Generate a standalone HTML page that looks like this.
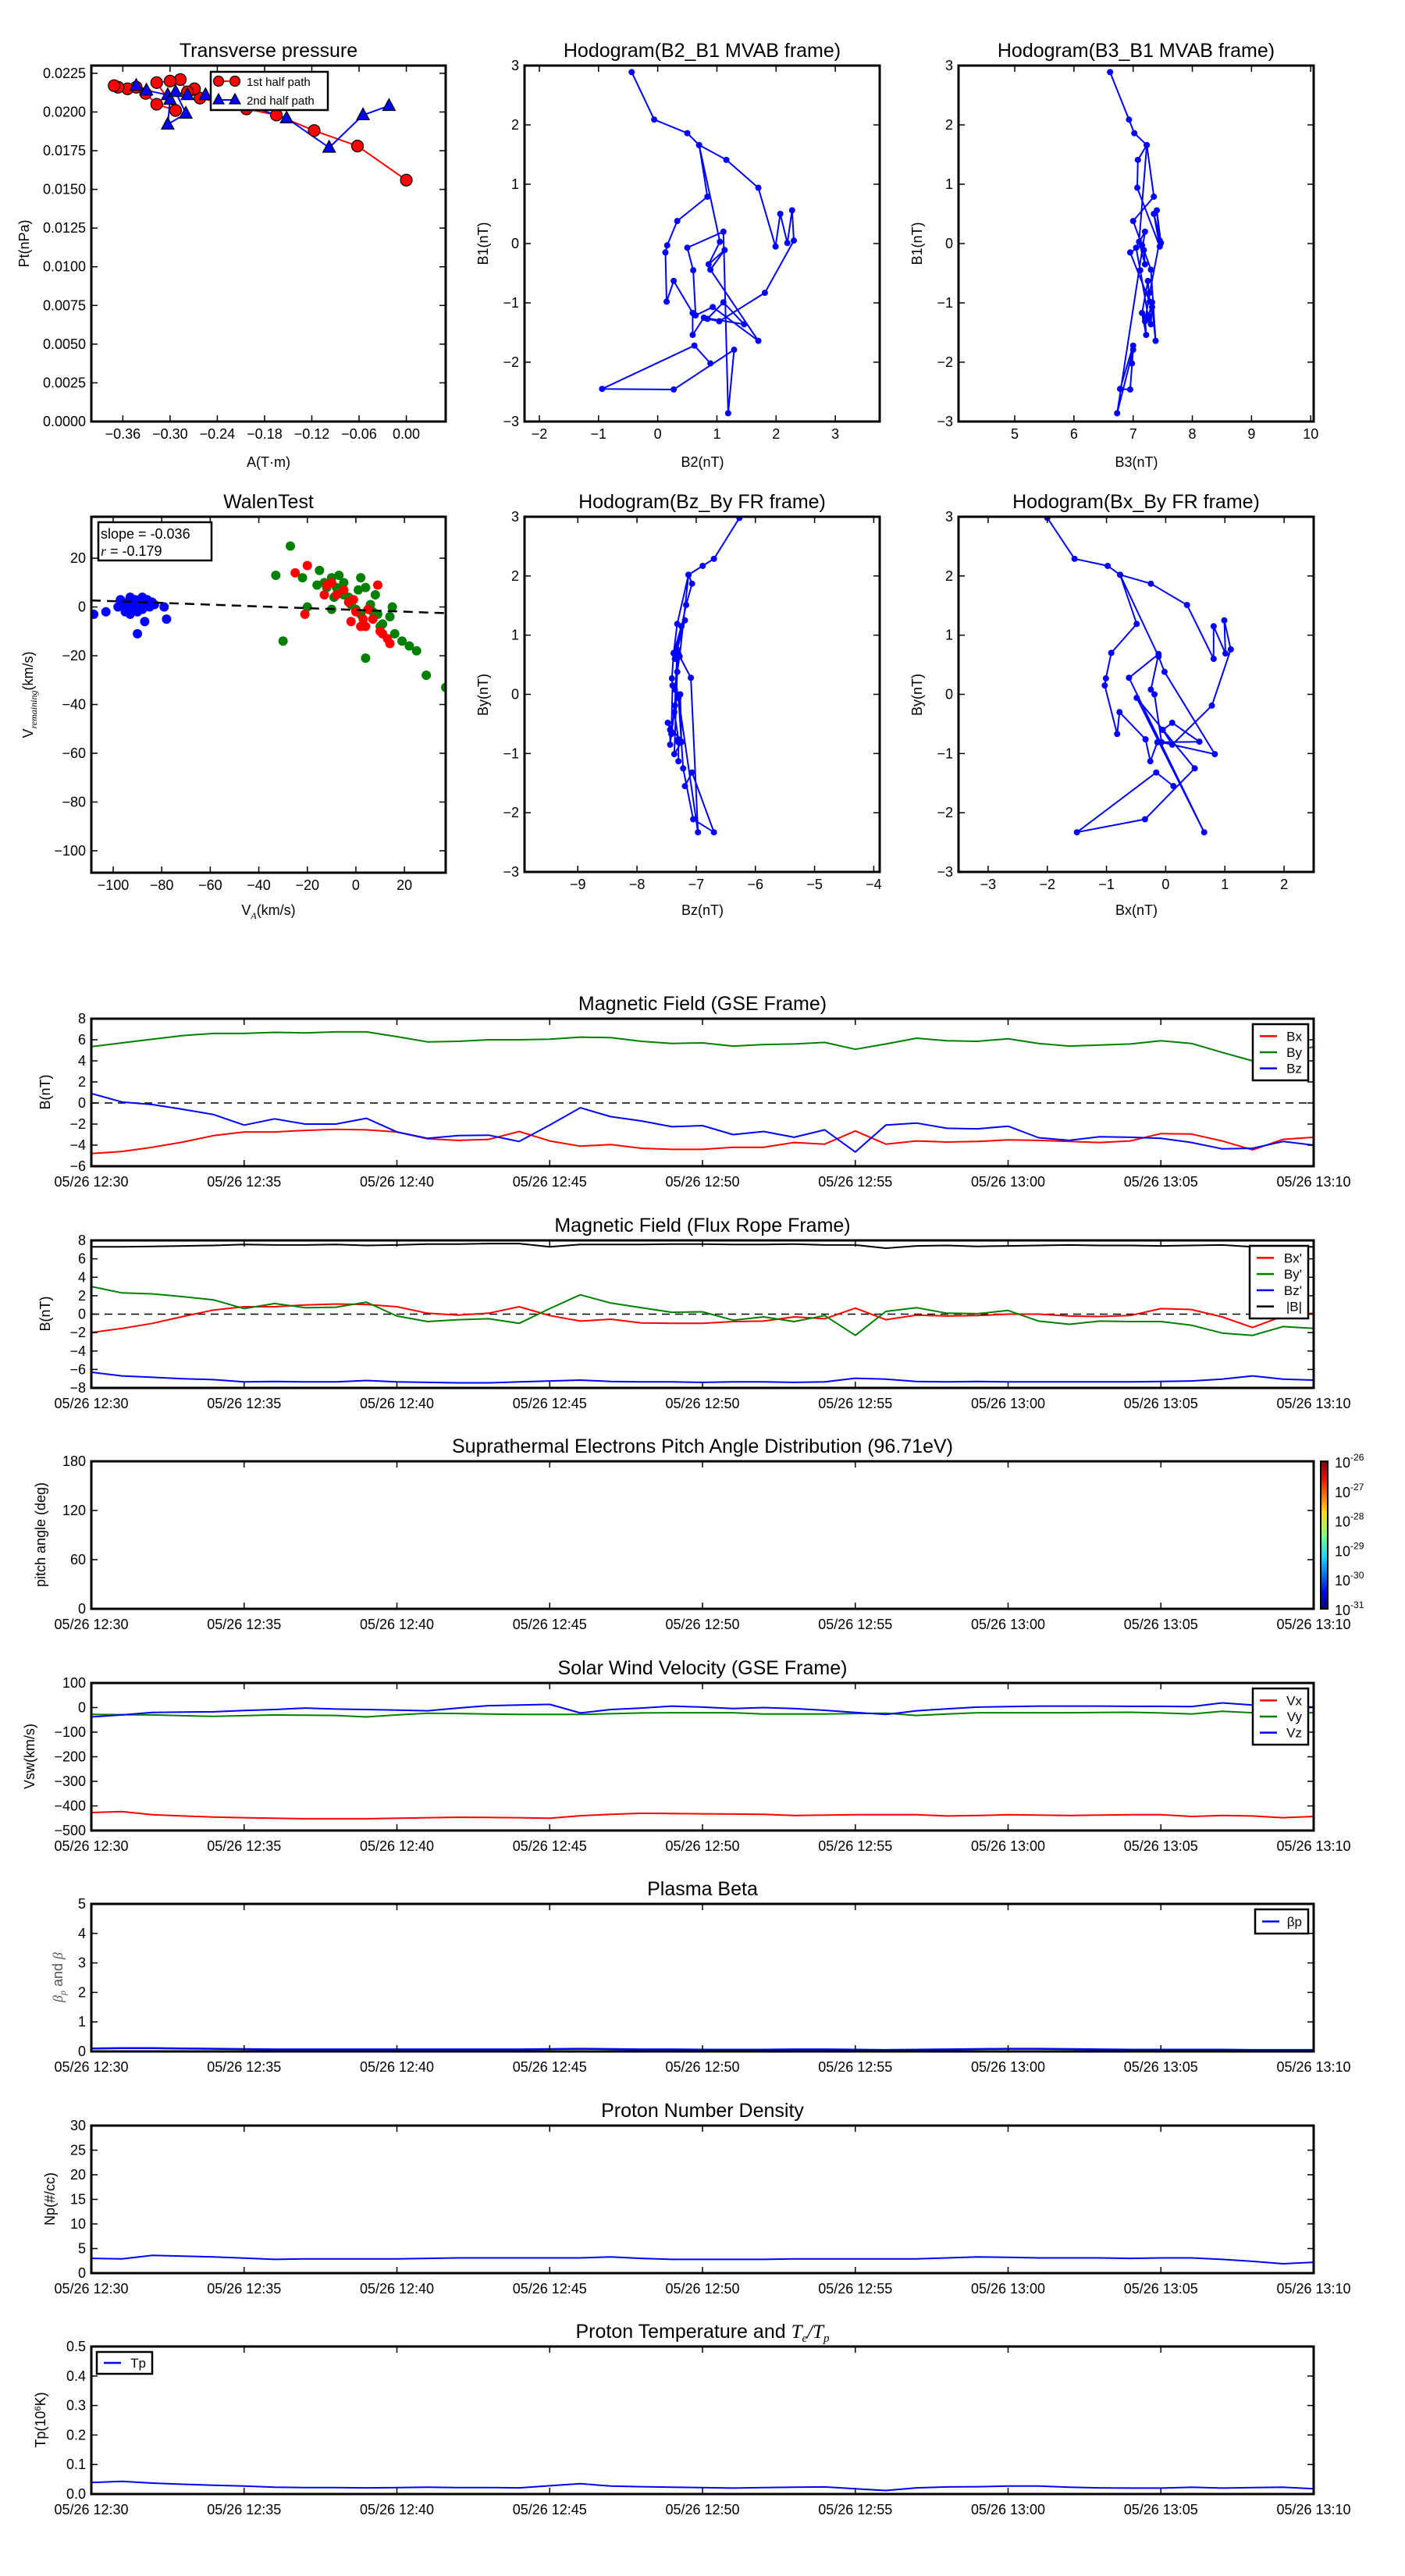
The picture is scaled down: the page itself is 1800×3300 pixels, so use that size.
<!DOCTYPE html>
<html><head><meta charset="utf-8"><title>Flux rope analysis</title>
<style>
html,body{margin:0;padding:0;background:#fff;}
svg{display:block;font-family:"Liberation Sans","DejaVu Sans",sans-serif;}
</style></head>
<body>
<svg id="fig" xmlns="http://www.w3.org/2000/svg" width="1800" height="3300" viewBox="0 0 1800 3300">
<rect x="0" y="0" width="1800" height="3300" fill="#fff"/>
</svg>
<script>
// ---------- DATA ----------
const timeTicks = [0,5,10,15,20,25,30,35,40];
const timeLabels = ["05/26 12:30","05/26 12:35","05/26 12:40","05/26 12:45","05/26 12:50","05/26 12:55","05/26 13:00","05/26 13:05","05/26 13:10"];

const gseBx = [-4.8,-4.6,-4.2,-3.7,-3.1,-2.75,-2.75,-2.6,-2.5,-2.55,-2.75,-3.4,-3.55,-3.45,-2.7,-3.6,-4.1,-3.95,-4.3,-4.4,-4.4,-4.2,-4.2,-3.75,-3.9,-2.65,-3.9,-3.6,-3.7,-3.65,-3.5,-3.55,-3.65,-3.75,-3.6,-2.9,-2.95,-3.6,-4.45,-3.45,-3.25];
const gseBy = [5.35,5.7,6.05,6.4,6.6,6.6,6.7,6.65,6.75,6.75,6.3,5.8,5.85,6.0,6.0,6.05,6.25,6.2,5.85,5.65,5.7,5.4,5.55,5.6,5.75,5.1,5.6,6.15,5.9,5.85,6.1,5.65,5.4,5.5,5.6,5.9,5.65,4.8,4.0,4.6,5.35];
const gseBz = [0.9,0.1,-0.15,-0.6,-1.1,-2.1,-1.5,-2.0,-2.0,-1.45,-2.75,-3.35,-3.1,-3.05,-3.65,-2.1,-0.45,-1.3,-1.7,-2.25,-2.15,-3.0,-2.7,-3.25,-2.55,-4.65,-2.1,-1.9,-2.4,-2.45,-2.2,-3.3,-3.55,-3.2,-3.25,-3.35,-3.75,-4.35,-4.3,-3.65,-4.0];

const frBx = [-2.0,-1.55,-1.0,-0.25,0.45,0.8,0.8,1.0,1.1,1.05,0.8,0.1,-0.1,0.1,0.8,-0.15,-0.75,-0.55,-0.95,-1.0,-1.0,-0.8,-0.75,-0.3,-0.5,0.65,-0.6,-0.1,-0.2,-0.15,0.0,0.0,-0.2,-0.25,-0.15,0.6,0.5,-0.3,-1.45,-0.2,0.1];
const frBy = [3.0,2.3,2.2,1.9,1.55,0.6,1.15,0.7,0.75,1.3,-0.2,-0.8,-0.6,-0.5,-1.0,0.6,2.1,1.2,0.7,0.2,0.25,-0.65,-0.3,-0.8,-0.15,-2.3,0.3,0.7,0.1,0.05,0.4,-0.75,-1.1,-0.75,-0.8,-0.8,-1.2,-2.05,-2.3,-1.35,-1.55];
const frBz = [-6.3,-6.7,-6.85,-7.0,-7.1,-7.35,-7.3,-7.35,-7.35,-7.2,-7.35,-7.4,-7.45,-7.45,-7.35,-7.25,-7.15,-7.3,-7.35,-7.35,-7.4,-7.35,-7.35,-7.4,-7.35,-6.95,-7.05,-7.3,-7.35,-7.3,-7.35,-7.35,-7.35,-7.35,-7.35,-7.3,-7.25,-7.05,-6.7,-7.05,-7.15];
const frBt = [7.3,7.3,7.35,7.4,7.45,7.55,7.5,7.5,7.55,7.45,7.5,7.6,7.6,7.65,7.65,7.3,7.55,7.55,7.55,7.6,7.6,7.55,7.55,7.6,7.5,7.5,7.15,7.4,7.45,7.35,7.4,7.45,7.5,7.45,7.45,7.4,7.45,7.5,7.3,7.3,7.3];

const vswVx = [-427,-423,-436,-441,-445,-448,-450,-452,-452,-452,-450,-448,-446,-447,-448,-450,-440,-434,-430,-431,-432,-433,-434,-439,-437,-436,-436,-436,-441,-439,-436,-437,-439,-437,-436,-436,-443,-439,-441,-448,-443];
const vswVy = [-28,-29,-30,-33,-36,-33,-30,-31,-32,-38,-30,-23,-24,-26,-28,-28,-28,-25,-22,-21,-21,-21,-26,-26,-26,-24,-23,-32,-26,-21,-21,-21,-21,-20,-19,-22,-26,-15,-21,-21,-21];
const vswVz = [-38,-30,-20,-18,-17,-12,-8,-2,-6,-8,-10,-13,-2,8,10,13,-22,-8,-2,6,2,-4,0,-4,-11,-20,-28,-13,-5,2,4,6,6,6,5,5,4,19,10,6,2];

const betaP = [0.10,0.11,0.11,0.10,0.09,0.08,0.07,0.07,0.07,0.07,0.07,0.07,0.07,0.07,0.07,0.08,0.09,0.08,0.07,0.07,0.06,0.06,0.06,0.07,0.07,0.06,0.05,0.06,0.07,0.08,0.09,0.09,0.08,0.07,0.06,0.06,0.06,0.06,0.05,0.05,0.05];
const density = [3.0,2.9,3.6,3.45,3.3,3.05,2.8,2.9,2.9,2.9,2.9,3.0,3.1,3.1,3.1,3.1,3.1,3.3,3.0,2.8,2.8,2.8,2.8,2.9,2.9,2.9,2.9,2.9,3.1,3.3,3.2,3.1,3.1,3.1,3.0,3.1,3.1,2.8,2.4,1.9,2.2];
const tempP = [0.039,0.043,0.037,0.033,0.030,0.027,0.023,0.022,0.022,0.021,0.022,0.023,0.022,0.022,0.021,0.028,0.035,0.027,0.025,0.023,0.022,0.020,0.022,0.023,0.024,0.018,0.012,0.021,0.024,0.025,0.027,0.027,0.023,0.021,0.020,0.020,0.023,0.020,0.022,0.023,0.018];

const pres1A = [0.000,-0.062,-0.117,-0.165,-0.203,-0.262,-0.269,-0.278,-0.287,-0.300,-0.317,-0.293,-0.317,-0.331,-0.343,-0.354,-0.366,-0.371];
const pres1P = [0.0156,0.0178,0.0188,0.0198,0.0202,0.0209,0.0215,0.0213,0.0221,0.0220,0.0219,0.0201,0.0205,0.0212,0.0216,0.0215,0.0216,0.0217];
const pres2A = [-0.343,-0.330,-0.303,-0.300,-0.303,-0.280,-0.293,-0.278,-0.255,-0.238,-0.152,-0.098,-0.055,-0.022];
const pres2P = [0.0217,0.0214,0.0211,0.0208,0.0192,0.0199,0.0213,0.0211,0.0211,0.0210,0.0196,0.0177,0.0198,0.0204];

const mvaB2 = [-0.44,-0.06,0.50,0.70,1.16,1.70,1.99,2.07,2.19,2.27,2.30,1.81,1.04,0.84,1.11,1.46,0.78,0.59,0.59,0.27,0.15,0.13,0.16,0.33,0.84,0.70,1.05,0.86,1.13,0.89,1.70,0.93,0.64,0.60,0.50,1.11,1.19,1.29,0.27,-0.94,0.62,0.89];
const mvaB1 = [2.89,2.09,1.86,1.66,1.41,0.94,-0.05,0.50,0.01,0.56,0.05,-0.83,-1.31,-1.27,-0.99,-1.36,-1.25,-1.54,-1.17,-0.63,-0.98,-0.15,-0.03,0.38,0.79,1.66,0.03,-0.35,-0.11,-0.44,-1.64,-1.07,-1.21,-0.45,-0.07,0.20,-2.86,-1.79,-2.46,-2.45,-1.72,-2.02];
const mvaB3 = [6.61,6.93,7.02,7.23,7.08,7.07,7.45,7.35,7.47,7.40,7.45,7.28,7.20,7.25,7.32,7.30,7.20,7.22,7.15,7.25,7.28,6.95,7.15,7.00,7.35,7.23,7.10,7.20,7.18,7.30,7.38,7.32,7.25,7.12,7.05,7.20,6.73,7.00,6.95,6.78,7.00,6.98];

const hodoBx = [-2.00,-1.54,-0.98,-0.77,-0.25,0.36,0.81,0.81,1.01,0.99,1.10,0.78,0.11,-0.05,0.11,0.57,-0.14,-0.26,-0.34,-0.78,-0.82,-1.03,-1.01,-0.92,-0.49,-0.77,-0.12,-0.02,0.83,-0.07,-0.19,-0.25,-0.12,-0.62,0.65,-0.49,0.49,-0.35,-1.50,-0.16,0.13];
const hodoBy = [2.98,2.29,2.17,2.02,1.87,1.51,0.60,1.15,0.69,1.25,0.76,-0.19,-0.85,-0.60,-0.48,-0.80,-0.81,-1.13,-0.76,-0.30,-0.67,0.15,0.27,0.70,1.19,2.02,0.64,0.38,-1.01,-0.81,0.00,0.08,0.68,0.28,-2.33,-0.06,-1.25,-2.11,-2.33,-1.32,-1.55];
const hodoBz = [-6.27,-6.70,-6.89,-7.13,-7.07,-7.17,-7.36,-7.25,-7.38,-7.19,-7.32,-7.36,-7.44,-7.44,-7.48,-7.25,-7.30,-7.30,-7.30,-7.37,-7.42,-7.40,-7.41,-7.38,-7.32,-7.13,-7.28,-7.32,-7.37,-7.25,-7.27,-7.36,-7.30,-7.09,-6.97,-7.30,-7.22,-7.05,-6.70,-7.07,-7.19];

const walenBlueX = [-108,-103,-98,-97,-96,-95,-94,-93,-92,-91,-90,-89,-88,-88,-87,-86,-85,-84,-90,-87,-79,-78,-95,-93,-92,-89,-83,-91];
const walenBlueY = [-3,-2,0,3,1,-1,2,4,0,3,-2,1,4,-1,2,3,0,2,-11,-6,0,-5,-2,-3,-1,3,1,1];
const walenRedX = [-25,-20,-10,-13,-12,-8,-5,-3,-1,0,-2,2,4,3,7,9,11,13,14,-21,10,5];
const walenRedY = [14,17,10,5,9,5,7,2,3,-2,-6,-8,-8,-5,-5,9,-11,-13,-15,-3,-10,-1];
const walenGreenX = [-27,-33,-30,-22,-15,-13,-10,-7,-5,-8,-16,-12,-9,-3,1,2,4,6,8,9,10,2,0,-10,-20,11,14,15,16,19,22,25,29,37,4,-5,-2,7];
const walenGreenY = [25,13,-14,12,15,10,12,13,10,8,9,8,4,4,7,12,8,1,5,-3,-8,-3,-1,-1,0,-7,-4,0,-11,-14,-16,-18,-28,-33,-21,5,1,-2];
const walenSlope = [-0.036];
const walenIntercept = [-1.2];

const cbarLabels = ["-26","-27","-28","-29","-30","-31"];

// ---------- HELPERS ----------
const NS = "http://www.w3.org/2000/svg";
const svg = document.getElementById('fig');
function E(tag, parent, a){ const e=document.createElementNS(NS,tag); for(const k in a) e.setAttribute(k,a[k]); parent.appendChild(e); return e; }
function fmt(v, d){ let s=v.toFixed(d); if(v<0) s="\u2212"+s.slice(1); if(s==="\u22120"||/^\u22120(\.0+)?$/.test(s)) s=s.slice(1); return s; }
let clipId = 0;

function axes(name, x0,y0,w,h, xmin,xmax,ymin,ymax, xt, xtl, yt, ytl, tickBaseOff){
  const g = E('g', svg, {});
  
  
  const sx = v => x0 + (v-xmin)/(xmax-xmin)*w;
  const sy = v => y0 + h - (v-ymin)/(ymax-ymin)*h;
  clipId++;
  const cp = E('clipPath', g, {id:'c'+clipId});
  E('rect', cp, {x:x0,y:y0,width:w,height:h});
  const dg = E('g', g, {'clip-path':'url(#c'+clipId+')'});
  
  
  const tg = E('g', g, {stroke:'#000','stroke-width':1.5});
  
  
  xt.forEach((v,i)=>{
    const X=sx(v);
    E('line', tg, {x1:X,y1:y0+h,x2:X,y2:y0+h-8});
    E('line', tg, {x1:X,y1:y0,x2:X,y2:y0+8});
    const t = E('text', g, {x:X,y:y0+h+(tickBaseOff||26),'text-anchor':'middle','font-size':18,fill:'#000'});
    t.textContent = xtl[i];
    
    
  });
  yt.forEach((v,i)=>{
    const Y=sy(v);
    E('line', tg, {x1:x0,y1:Y,x2:x0+8,y2:Y});
    E('line', tg, {x1:x0+w,y1:Y,x2:x0+w-8,y2:Y});
    const t = E('text', g, {x:x0-7,y:Y+6,'text-anchor':'end','font-size':18,fill:'#000'});
    t.textContent = ytl[i];
    
    
  });
  const fr = E('rect', g, {x:x0,y:y0,width:w,height:h,fill:'none',stroke:'#000','stroke-width':3});
  
  
  return {g, dg, sx, sy, x0, y0, w, h};
}
function title(ax, txt, name){
  const t = E('text', svg, {x:ax.x0+ax.w/2,y:ax.y0-11,'text-anchor':'middle','font-size':25,fill:'#000'});
  t.textContent = txt;
  
  
  return t;
}
function ylabel(x, y, txt, name, size){
  const t = E('text', svg, {x:x,y:y,'text-anchor':'middle','font-size':size||18,fill:'#000',transform:'rotate(-90 '+x+' '+y+')'});
  t.textContent = txt;
  
  
  return t;
}
function xlabel(x, y, txt, name){
  const t = E('text', svg, {x:x,y:y,'text-anchor':'middle','font-size':18,fill:'#000'});
  t.textContent = txt;
  
  
  return t;
}
function polyline(ax, xs, ys, color, name, width, dash){
  const pts = xs.map((v,i)=>ax.sx(v).toFixed(1)+','+ax.sy(ys[i]).toFixed(1)).join(' ');
  const a = {points:pts,fill:'none',stroke:color,'stroke-width':width||2,'stroke-linejoin':'round'};
  if(dash) a['stroke-dasharray']=dash;
  const p = E('polyline', ax.dg, a);
  
  
  return p;
}
function dots(ax, xs, ys, color, r, name, stroke){
  const g = E('g', ax.dg, {});
  
  
  xs.forEach((v,i)=>{
    const c = E('circle', g, {cx:ax.sx(v),cy:ax.sy(ys[i]),r:r,fill:color,stroke:stroke||'none','stroke-width':1.2});
    
    
  });
}
function tris(ax, xs, ys, color, name){
  const g = E('g', ax.dg, {});
  
  
  xs.forEach((v,i)=>{
    const X=ax.sx(v), Y=ax.sy(ys[i]);
    const p = E('polygon', g, {points:(X)+','+(Y-9)+' '+(X-8)+','+(Y+6)+' '+(X+8)+','+(Y+6),fill:color,stroke:'#000','stroke-width':1.2});
    
    
  });
}
function legend(x, y, w, h, entries, name){
  const g = E('g', svg, {});
  
  
  const r = E('rect', g, {x:x,y:y,width:w,height:h,fill:'#fff',stroke:'#000','stroke-width':2.5});
  
  
  const step = (h-10)/entries.length;
  entries.forEach((en,i)=>{
    const cy = y+5+step*(i+0.5);
    const l = E('line', g, {x1:x+9,y1:cy,x2:x+31,y2:cy,stroke:en[1],'stroke-width':2.5});
    
    
    const t = E('text', g, {x:x+w-8,y:cy+6,'text-anchor':'end','font-size':17,fill:'#000'});
    t.textContent = en[0];
    
    
  });
}
function range(a,b,s){ const r=[]; for(let v=a; v<=b+1e-9; v+=s) r.push(Math.round(v*10000)/10000); return r; }

// ---------- TOP ROW ----------
// Transverse pressure
{
  const yt = range(0,0.0225,0.0025), xt = range(-0.36,0,0.06);
  const ax = axes('transverse-pressure-chart',117,84,454,456,-0.40,0.05,0,0.023, xt, xt.map(v=>fmt(v,2)), yt, yt.map(v=>v.toFixed(4)), 22);
  title(ax,'Transverse pressure','transverse-pressure-title');
  polyline(ax,pres1A,pres1P,'#ff0000','first-half-path-line',2);
  polyline(ax,pres2A,pres2P,'#0000ff','second-half-path-line',2);
  dots(ax,pres1A,pres1P,'#ff0000',7.5,'first-half-path-markers','#000');
  tris(ax,pres2A,pres2P,'#0000ff','second-half-path-markers');
  ylabel(37,312,'Pt(nPa)','pressure-y-axis-title');
  xlabel(344,598,'A(T\u00b7m)','pressure-x-axis-title');
  const lg = E('g', svg, {});
  
  
  const lr = E('rect', lg, {x:270,y:92,width:150,height:49,fill:'#fff',stroke:'#000','stroke-width':2.5});
  
  
  const l1 = E('line', lg, {x1:280,y1:104,x2:301,y2:104,stroke:'#ff0000','stroke-width':2});
  
  
  [280,301].forEach(X=>{
    const c = E('circle', lg, {cx:X,cy:104,r:6.5,fill:'#ff0000',stroke:'#000','stroke-width':1.2});
    
    
  });
  const t1 = E('text', lg, {x:316,y:110,'font-size':15,fill:'#000'}); t1.textContent='1st half path';
  
  
  const l2 = E('line', lg, {x1:280,y1:128,x2:301,y2:128,stroke:'#0000ff','stroke-width':2});
  
  
  [280,301].forEach(X=>{
    const p = E('polygon', lg, {points:X+','+(128-8)+' '+(X-7)+','+(128+5)+' '+(X+7)+','+(128+5),fill:'#0000ff',stroke:'#000','stroke-width':1.2});
    
    
  });
  const t2 = E('text', lg, {x:316,y:134,'font-size':15,fill:'#000'}); t2.textContent='2nd half path';
  
  
}
// Hodogram B2_B1
{
  const xt = range(-2,3,1), yt = range(-3,3,1);
  const ax = axes('hodogram-b2-b1-chart',672,84,455,456,-2.25,3.75,-3,3, xt, xt.map(v=>fmt(v,0)), yt, yt.map(v=>fmt(v,0)), 22);
  title(ax,'Hodogram(B2_B1 MVAB frame)','hodogram-b2-b1-title');
  polyline(ax,mvaB2,mvaB1,'#0000ff','b2-b1-path',2);
  dots(ax,mvaB2,mvaB1,'#0000ff',4,'b2-b1-points');
  ylabel(625,312,'B1(nT)','b2-b1-y-axis-title');
  xlabel(900,598,'B2(nT)','b2-b1-x-axis-title');
}
// Hodogram B3_B1
{
  const xt = range(5,10,1), yt = range(-3,3,1);
  const ax = axes('hodogram-b3-b1-chart',1228,84,455,456,4.05,10.05,-3,3, xt, xt.map(v=>fmt(v,0)), yt, yt.map(v=>fmt(v,0)), 22);
  title(ax,'Hodogram(B3_B1 MVAB frame)','hodogram-b3-b1-title');
  polyline(ax,mvaB3,mvaB1,'#0000ff','b3-b1-path',2);
  dots(ax,mvaB3,mvaB1,'#0000ff',4,'b3-b1-points');
  ylabel(1181,312,'B1(nT)','b3-b1-y-axis-title');
  xlabel(1456,598,'B3(nT)','b3-b1-x-axis-title');
}
// ---------- SECOND ROW ----------
// Walen test
{
  const xt = range(-100,20,20), yt = range(-100,20,20);
  const ax = axes('walen-test-chart',117,662,454,456,-109,37,-109,37, xt, xt.map(v=>fmt(v,0)), yt, yt.map(v=>fmt(v,0)), 22);
  title(ax,'WalenTest','walen-test-title');
  dots(ax,walenBlueX,walenBlueY,'#0000ff',6,'walen-blue-points');
  dots(ax,walenGreenX,walenGreenY,'#008000',6,'walen-green-points');
  dots(ax,walenRedX,walenRedY,'#ff0000',6,'walen-red-points');
  const fx=[-109,37];
  const fy=fx.map(v=>walenSlope[0]*v+walenIntercept[0]);
  polyline(ax,fx,fy,'#000','walen-fit-line',2.5,'12,8');
  const tb = E('rect', svg, {x:126,y:669,width:145,height:49,fill:'#fff',stroke:'#000','stroke-width':2.5});
  
  
  const s1 = E('text', svg, {x:129,y:690,'font-size':18,fill:'#000'}); s1.textContent='slope = -0.036';
  
  
  const s2 = E('text', svg, {x:129,y:712,'font-size':18,fill:'#000'});
  
  
  const ri = E('tspan', s2, {'font-style':'italic','font-family':'Liberation Serif, serif'}); ri.textContent='r';
  const rr = E('tspan', s2, {}); rr.textContent=' = -0.179';
  const yl = ylabel(42,890,'','walen-y-axis-title');
  const a1 = E('tspan', yl, {}); a1.textContent='V';
  const a2 = E('tspan', yl, {'font-size':12,'font-style':'italic','font-family':'Liberation Serif, serif',dy:5}); a2.textContent='remaining';
  const a3 = E('tspan', yl, {dy:-5}); a3.textContent='(km/s)';
  const xl = xlabel(344,1172,'','walen-x-axis-title');
  const b1 = E('tspan', xl, {}); b1.textContent='V';
  const b2 = E('tspan', xl, {'font-size':12,'font-style':'italic','font-family':'Liberation Serif, serif',dy:5}); b2.textContent='A';
  const b3 = E('tspan', xl, {dy:-5}); b3.textContent='(km/s)';
}
// Hodogram Bz_By
{
  const xt = range(-9,-4,1), yt = range(-3,3,1);
  const ax = axes('hodogram-bz-by-chart',672,662,455,455,-9.9,-3.9,-3,3, xt, xt.map(v=>fmt(v,0)), yt, yt.map(v=>fmt(v,0)), 22);
  title(ax,'Hodogram(Bz_By FR frame)','hodogram-bz-by-title');
  polyline(ax,hodoBz,hodoBy,'#0000ff','bz-by-path',2);
  dots(ax,hodoBz,hodoBy,'#0000ff',4,'bz-by-points');
  ylabel(625,890,'By(nT)','bz-by-y-axis-title');
  xlabel(900,1172,'Bz(nT)','bz-by-x-axis-title');
}
// Hodogram Bx_By
{
  const xt = range(-3,2,1), yt = range(-3,3,1);
  const ax = axes('hodogram-bx-by-chart',1228,662,455,455,-3.5,2.5,-3,3, xt, xt.map(v=>fmt(v,0)), yt, yt.map(v=>fmt(v,0)), 22);
  title(ax,'Hodogram(Bx_By FR frame)','hodogram-bx-by-title');
  polyline(ax,hodoBx,hodoBy,'#0000ff','bx-by-path',2);
  dots(ax,hodoBx,hodoBy,'#0000ff',4,'bx-by-points');
  ylabel(1181,890,'By(nT)','bx-by-y-axis-title');
  xlabel(1456,1172,'Bx(nT)','bx-by-x-axis-title');
}
// ---------- TIME SERIES ----------
const PX0=117, PW=1566, PH=189;
const mins = gseBx.map((_,i)=>i);
function tpanel(name, top, ymin, ymax, yt, ytl){
  return axes(name, PX0, top, PW, PH, 0, 40, ymin, ymax, timeTicks, timeLabels, yt, ytl, 26);
}
// Magnetic field GSE
{
  const yt = range(-6,8,2);
  const ax = tpanel('magnetic-field-gse-chart',1305,-6,8,yt,yt.map(v=>fmt(v,0)));
  title(ax,'Magnetic Field (GSE Frame)','magnetic-field-gse-title');
  polyline(ax,[0,40],[0,0],'#000','gse-zero-line',1.5,'10,7');
  polyline(ax,mins,gseBx,'#ff0000','gse-bx-line');
  polyline(ax,mins,gseBy,'#008000','gse-by-line');
  polyline(ax,mins,gseBz,'#0000ff','gse-bz-line');
  legend(1605,1312,71,72,[['Bx','#ff0000'],['By','#008000'],['Bz','#0000ff']],'gse-legend');
  ylabel(64,1399,'B(nT)','gse-y-axis-title');
}
// Magnetic field FR
{
  const yt = range(-8,8,2);
  const ax = tpanel('magnetic-field-fr-chart',1589,-8,8,yt,yt.map(v=>fmt(v,0)));
  title(ax,'Magnetic Field (Flux Rope Frame)','magnetic-field-fr-title');
  polyline(ax,[0,40],[0,0],'#000','fr-zero-line',1.5,'10,7');
  polyline(ax,mins,frBx,'#ff0000','fr-bx-line');
  polyline(ax,mins,frBy,'#008000','fr-by-line');
  polyline(ax,mins,frBz,'#0000ff','fr-bz-line');
  polyline(ax,mins,frBt,'#000','fr-btotal-line');
  legend(1601,1596,75,93,[["Bx'",'#ff0000'],["By'",'#008000'],["Bz'",'#0000ff'],['|B|','#000']],'fr-legend');
  ylabel(64,1683,'B(nT)','fr-y-axis-title');
}
// Pitch angle distribution
{
  const yt = [0,60,120,180];
  const ax = tpanel('pitch-angle-chart',1872,0,180,yt,yt.map(v=>String(v)));
  title(ax,'Suprathermal Electrons Pitch Angle Distribution (96.71eV)','pitch-angle-title');
  ylabel(58,1966,'pitch angle (deg)','pitch-angle-y-axis-title');
  const defs = E('defs', svg, {});
  const lgd = E('linearGradient', defs, {id:'jet',x1:0,y1:1,x2:0,y2:0});
  [['0','#00007f'],['0.11','#0000ff'],['0.35','#00e0ff'],['0.5','#7fff7f'],['0.65','#ffe000'],['0.89','#ff0000'],['1','#7f0000']].forEach(s=>E('stop',lgd,{offset:s[0],'stop-color':s[1]}));
  const cb = E('rect', svg, {x:1692,y:1872,width:9,height:189,fill:'url(#jet)',stroke:'#000','stroke-width':2});
  
  
  cbarLabels.forEach((s,i)=>{
    const Y = 1872 + i*189/5;
    const t = E('text', svg, {x:1710,y:Y+8,'font-size':18,fill:'#000'});
    
    
    const a = E('tspan', t, {}); a.textContent='10';
    const b = E('tspan', t, {'font-size':12,dy:-9}); b.textContent=s;
  });
}
// Solar wind velocity
{
  const yt = range(-500,100,100);
  const ax = tpanel('solar-wind-velocity-chart',2156,-500,100,yt,yt.map(v=>fmt(v,0)));
  title(ax,'Solar Wind Velocity (GSE Frame)','solar-wind-velocity-title');
  polyline(ax,mins,vswVx,'#ff0000','vx-line');
  polyline(ax,mins,vswVy,'#008000','vy-line');
  polyline(ax,mins,vswVz,'#0000ff','vz-line');
  legend(1605,2163,71,72,[['Vx','#ff0000'],['Vy','#008000'],['Vz','#0000ff']],'velocity-legend');
  ylabel(44,2250,'Vsw(km/s)','velocity-y-axis-title');
}
// Plasma beta
{
  const yt = range(0,5,1);
  const ax = tpanel('plasma-beta-chart',2439,0,5,yt,yt.map(v=>String(v)));
  title(ax,'Plasma Beta','plasma-beta-title');
  polyline(ax,mins,betaP,'#0000ff','beta-p-line',2.5);
  const yl = ylabel(80,2533,'','beta-y-axis-title');
  yl.setAttribute('fill','#555');
  const a = E('tspan', yl, {'font-style':'italic','font-family':'Liberation Serif, serif'}); a.textContent='\u03b2';
  const b = E('tspan', yl, {'font-size':12,'font-style':'italic','font-family':'Liberation Serif, serif',dy:4}); b.textContent='p';
  const c = E('tspan', yl, {dy:-4}); c.textContent=' and ';
  const d = E('tspan', yl, {'font-style':'italic','font-family':'Liberation Serif, serif'}); d.textContent='\u03b2';
  legend(1608,2446,68,31,[['\u03b2p','#0000ff']],'beta-legend');
}
// Proton density
{
  const yt = range(0,30,5);
  const ax = tpanel('proton-density-chart',2723,0,30,yt,yt.map(v=>String(v)));
  title(ax,'Proton Number Density','proton-density-title');
  polyline(ax,mins,density,'#0000ff','density-line');
  ylabel(70,2817,'Np(#/cc)','density-y-axis-title');
}
// Proton temperature
{
  const yt = range(0,0.5,0.1);
  const ax = tpanel('proton-temperature-chart',3006,0,0.5,yt,yt.map(v=>v.toFixed(1)));
  const tt = title(ax,'','proton-temperature-title');
  const a = E('tspan', tt, {}); a.textContent='Proton Temperature and ';
  const b = E('tspan', tt, {'font-style':'italic','font-family':'Liberation Serif, serif'}); b.textContent='T';
  const c = E('tspan', tt, {'font-size':15,'font-style':'italic','font-family':'Liberation Serif, serif',dy:5}); c.textContent='e';
  const d = E('tspan', tt, {dy:-5,'font-style':'italic','font-family':'Liberation Serif, serif'}); d.textContent='/T';
  const e = E('tspan', tt, {'font-size':15,'font-style':'italic','font-family':'Liberation Serif, serif',dy:5}); e.textContent='p';
  polyline(ax,mins,tempP,'#0000ff','temperature-line');
  legend(124,3013,71,28,[['Tp','#0000ff']],'temperature-legend');
  const yl = ylabel(58,3100,'','temperature-y-axis-title');
  const f = E('tspan', yl, {}); f.textContent='Tp(10';
  const g2 = E('tspan', yl, {'font-size':11,dy:-6}); g2.textContent='6';
  const h = E('tspan', yl, {dy:6}); h.textContent='K)';
}
</script>
</body></html>
